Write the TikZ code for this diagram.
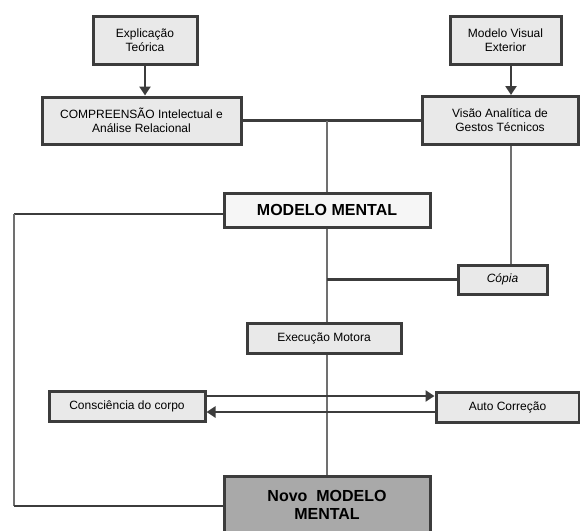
\documentclass[tikz,border=0pt]{standalone}
\usepackage{fontspec}
\setmainfont{Liberation Sans}
\usetikzlibrary{arrows.meta}
\definecolor{boxgray}{HTML}{E9E9E9}
\definecolor{edgegray}{HTML}{3C3C3C}
\definecolor{linegray}{HTML}{707070}
\definecolor{novogray}{HTML}{A9A9A9}
\begin{document}
\begin{tikzpicture}[x=1pt,y=-1pt,
	caixa/.style={draw=edgegray, line width=3pt, fill=boxgray, inner sep=0pt, align=center, font=\fontsize{12}{14}\selectfont},
	grande/.style={caixa, font=\fontsize{16}{18}\selectfont\bfseries},
	seta/.style={draw=edgegray, line width=2.5pt, -{Triangle[length=9pt,width=11pt]}},
	hlinha/.style={draw=edgegray, line width=2.5pt},
	vlinha/.style={draw=linegray, line width=2.5pt}]
	\useasboundingbox (0,0) rectangle (580,530);
	\node[caixa, minimum width=104pt, minimum height=48pt] (expl) at (145,40) {Explicação\\Teórica};
	\node[caixa, minimum width=111pt, minimum height=48pt] (visual) at (505.5,40) {Modelo Visual\\Exterior};
	\node[caixa, minimum width=199pt, minimum height=47pt] (compr) at (141.5,120.5) {COMPREENSÃO Intelectual e\\Análise Relacional};
	\node[caixa, minimum width=156pt, minimum height=48pt] (visao) at (500,120.5) {Visão Analítica de\\Gestos Técnicos};
	\node[grande, fill=white!60!boxgray, minimum width=206pt, minimum height=34pt] (mental) at (327,210) {MODELO MENTAL};
	\node[caixa, font=\fontsize{12}{14}\selectfont\itshape, minimum width=89pt, minimum height=29pt] (copia) at (502.5,279.5) {Cópia};
	\node[caixa, minimum width=154pt, minimum height=30pt] (exec) at (324,338) {Execução Motora};
	\node[caixa, minimum width=156pt, minimum height=30pt] (consc) at (127,406) {Consciência do corpo};
	\node[caixa, minimum width=143pt, minimum height=30pt] (auto) at (507.5,407) {Auto Correção};
	\node[grande, fill=novogray, minimum width=206pt, minimum height=58pt] (novo) at (327,505) {Novo\ \ MODELO\\MENTAL};
	\coordinate (topo) at (327,120.5);
	\coordinate (dir) at (511,0);
	\coordinate (esq1) at (14,214);
	\coordinate (esq2) at (14,506);

	\draw[seta] (expl) -- (expl |- compr.north);
	\draw[seta] (dir |- visual.south) -- (dir |- visao.north);
	\draw[hlinha] (compr.east) -- (visao.west);
	\draw[vlinha] (topo) -- (mental.north);
	\draw[vlinha] (dir |- visao.south) -- (dir |- copia.north);
	\draw[vlinha] (mental.south) -- (mental.south |- exec.north);
	\draw[hlinha] (mental.south |- copia.west) -- (copia.west);
	\draw[vlinha] (mental.south |- exec.south) -- (novo.north);
	\draw[hlinha] ([yshift=-4pt]mental.west) -- (esq1);
	\draw[vlinha] (esq1) -- (esq2);
	\draw[hlinha] (esq2) -- (esq2 -| novo.west);
	\draw[seta] ([yshift=10pt]consc.east) -- ([yshift=10pt]consc.east -| auto.west);
	\draw[seta] ([yshift=-5pt]auto.west) -- ([yshift=-5pt]auto.west -| consc.east);
\end{tikzpicture}
\end{document}
